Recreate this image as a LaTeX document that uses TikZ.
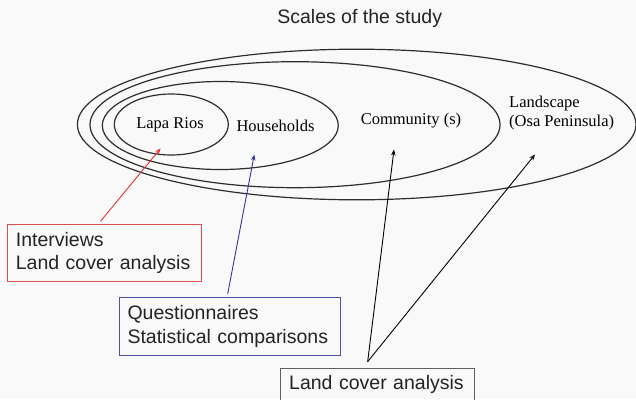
\documentclass[tikz,border=0pt]{standalone}
\usepackage{fontspec}
\setmainfont{Liberation Serif}
\newfontfamily\boxfont{Liberation Sans}
\usetikzlibrary{arrows.meta}
\definecolor{bg}{RGB}{249,249,249}
\definecolor{ringcol}{RGB}{45,45,45}
\definecolor{redline}{RGB}{228,52,52}
\definecolor{redbox}{RGB}{222,80,80}
\definecolor{blueline}{RGB}{52,52,160}
\definecolor{bluebox}{RGB}{80,80,165}
\definecolor{greybox}{RGB}{95,95,95}
\definecolor{txt}{RGB}{35,35,35}
\tikzset{
  ring/.style={draw=ringcol, line width=1.2pt},
  scalelabel/.style={font=\fontsize{16.5}{19.4}\selectfont, text=black, inner sep=0pt},
  methodbox/.style={draw, line width=1pt, font=\boxfont\fontsize{19.5}{23.3}\selectfont, text=txt, align=left, inner ysep=0pt, inner xsep=8.5pt},
  arr/.style={line width=0.9pt, -{Stealth[length=6pt,width=4.5pt]}},
}
\begin{document}
\begin{tikzpicture}[x=1pt,y=-1pt]
\fill[bg] (0,0) rectangle (636,399);
\useasboundingbox (0,0) rectangle (636,399);

% title
\node[font=\boxfont\fontsize{19.5}{23}\selectfont, text=txt, inner sep=0pt] (title) at (359.7,18) {Scales of the study};

% nested scales
\draw[ring] (356.7,124.5) ellipse [x radius=279.3, y radius=75.3];
\draw[ring] (295,124.7) ellipse [x radius=205, y radius=63];
\draw[ring] (220.3,125.5) ellipse [x radius=118, y radius=44];
\draw[ring] (171.3,124.5) ellipse [x radius=57, y radius=30.5];

\node[scalelabel] (lapa) at (170,124.5) {Lapa Rios};
\node[scalelabel] (house) at (275.5,126) {Households};
\node[scalelabel] (comm) at (411,121) {Community (s)};
\node[scalelabel, anchor=west, align=left] (land) at (509,113) {Landscape\\(Osa Peninsula)};

% arrow targets
\coordinate (tiplapa) at (160.7,148.3);
\coordinate (tiphouse) at (254.3,154.5);
\coordinate (tipcomm) at (394,149.5);
\coordinate (tipland) at (535,154.5);

% method boxes
\node[methodbox, draw=redbox, text width=176.7pt, minimum height=57.7pt] (interv) at (104.2,252.9) {Interviews\\Land cover analysis};
\node[methodbox, draw=bluebox, text width=204.7pt, minimum height=57.3pt] (quest) at (229.9,326.4) {Questionnaires\\Statistical comparisons};
\node[methodbox, draw=greybox, text width=176.3pt, anchor=north, inner ysep=7.2pt, text height=14.2pt, text depth=12pt] (lca) at (377.35,367.7) {Land cover analysis};

% connectors
\draw[arr, redline] ([xshift=-3.5pt,yshift=2.5pt]interv.north) -- (tiplapa);
\draw[arr, blueline] ([xshift=-2.2pt,yshift=3.4pt]quest.north) -- (tiphouse);
\draw[arr, black] ([xshift=-9.7pt,yshift=6pt]lca.north) -- (tipcomm);
\draw[arr, black] ([xshift=-9.7pt,yshift=6pt]lca.north) -- (tipland);
\end{tikzpicture}
\end{document}
